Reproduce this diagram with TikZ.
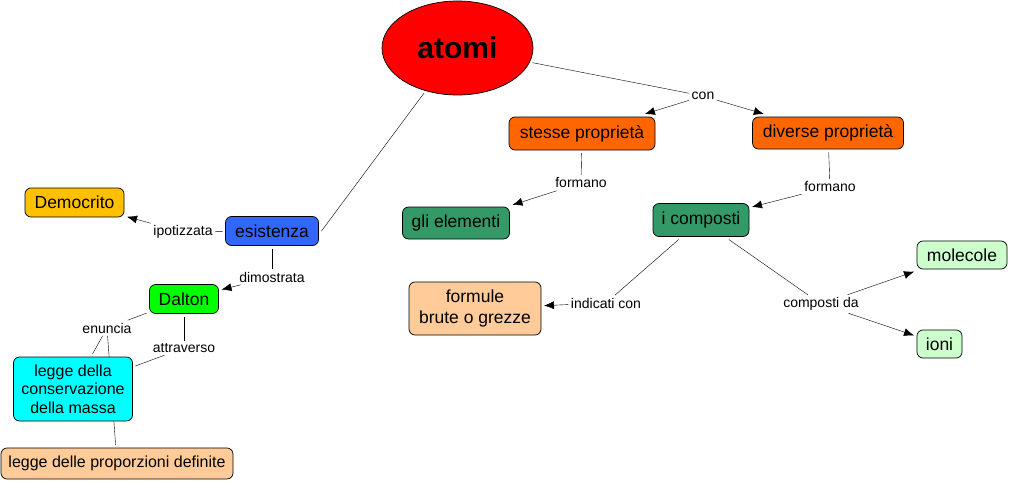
\documentclass[tikz,border=0pt]{standalone}
\usepackage{fontspec}
\setmainfont{Liberation Sans}
\usepackage{xcolor}
\usetikzlibrary{arrows.meta}
\usetikzlibrary{shapes.geometric}
\usetikzlibrary{backgrounds}
\definecolor{rosso}{HTML}{FF0000}
\definecolor{oro}{HTML}{FFC000}
\definecolor{blu}{HTML}{3366FF}
\definecolor{verdechiaro}{HTML}{00FF00}
\definecolor{ciano}{HTML}{00FFFF}
\definecolor{pesca}{HTML}{FFCC99}
\definecolor{arancio}{HTML}{FF6600}
\definecolor{verdemare}{HTML}{339966}
\definecolor{menta}{HTML}{CCFFCC}

\begin{document}
\begin{tikzpicture}[x=1pt,y=-1pt,
    concetto/.style={draw,line width=0.7pt,rounded corners=6pt,inner sep=0pt,
      outer sep=3pt,align=center,font=\fontsize{17.5}{20.7}\selectfont},
    frase/.style={inner sep=2.5pt,font=\fontsize{14}{16}\selectfont},
    freccia/.style={-{Latex[length=10pt,width=8pt]}}]
    \useasboundingbox (0,0) rectangle (1010,482);
    % concetti
    \node[ellipse,draw,line width=0.7pt,fill=rosso,minimum width=151,minimum height=94,
      outer sep=3pt,font=\fontsize{30}{34}\selectfont\bfseries] (atomi) at (457.5,48) {atomi};
    \node[concetto,fill=oro,minimum width=99,minimum height=29] (democrito) at (74.5,202.5) {Democrito};
    \node[concetto,fill=blu,minimum width=93,minimum height=29] (esistenza) at (272,231) {esistenza};
    \node[concetto,fill=verdechiaro,minimum width=69,minimum height=29] (dalton) at (184,299) {Dalton};
    \node[concetto,fill=ciano,minimum width=119,minimum height=64,
      font=\fontsize{16}{18.3}\selectfont] (conservazione) at (73,389) {legge della\\conservazione\\della massa};
    \node[concetto,fill=pesca,minimum width=232,minimum height=31,
      font=\fontsize{16}{18}\selectfont] (proporzioni) at (117,463.5) {legge delle proporzioni definite};
    \node[concetto,fill=arancio,minimum width=146,minimum height=33] (stesse) at (582,133.5) {stesse proprietà};
    \node[concetto,fill=arancio,minimum width=151,minimum height=32] (diverse) at (828,133) {diverse proprietà};
    \node[concetto,fill=verdemare,minimum width=107,minimum height=32] (elementi) at (456,223) {gli elementi};
    \node[concetto,fill=verdemare,minimum width=96,minimum height=33] (composti) at (701,220) {i composti};
    \node[concetto,fill=pesca,minimum width=132,minimum height=53] (formule) at (475,308.5) {formule\\brute o grezze};
    \node[concetto,fill=menta,minimum width=90,minimum height=28] (molecole) at (962,255) {molecole};
    \node[concetto,fill=menta,minimum width=45,minimum height=28] (ioni) at (939.5,344) {ioni};
    %
    % frasi legame
    \node[frase] (con) at (703,96) {con};
    \node[frase] (formanoS) at (581,183) {formano};
    \node[frase] (formanoD) at (830,187) {formano};
    \node[frase] (ipotizzata) at (183,232) {ipotizzata};
    \node[frase] (dimostrata) at (272,277) {dimostrata};
    \node[frase] (enuncia) at (107,328) {enuncia};
    \node[frase] (attraverso) at (184,348) {attraverso};
    \node[frase] (indicati) at (606,303) {indicati con};
    \node[frase] (compostida) at (821,304) {composti da};
    %
    \begin{scope}[on background layer,line width=0.8pt]
      \draw (atomi) -- (con);
      \draw[freccia] (con) -- (stesse);
      \draw[freccia] (con) -- (diverse);
      \draw (stesse) -- (formanoS);
      \draw[freccia] (formanoS) -- (elementi);
      \draw (diverse) -- (formanoD);
      \draw[freccia] (formanoD) -- (composti);
      \draw (atomi) -- (esistenza.east);
      \draw (esistenza) -- (ipotizzata);
      \draw[freccia] (ipotizzata) -- (democrito);
      \draw (esistenza) -- (dimostrata);
      \draw[freccia] (dimostrata) -- (dalton);
      \draw (dalton) -- (enuncia);
      \draw (enuncia) -- (conservazione);
      \draw (enuncia) -- (proporzioni);
      \draw (dalton) -- (attraverso);
      \draw (attraverso) -- (conservazione);
      \draw (composti) -- (indicati);
      \draw[freccia] (indicati) -- (formule);
      \draw (composti) -- (compostida);
      \draw[freccia] (compostida) -- (molecole);
      \draw[freccia] (compostida) -- (ioni);
    \end{scope}
  \end{tikzpicture}
\end{document}
